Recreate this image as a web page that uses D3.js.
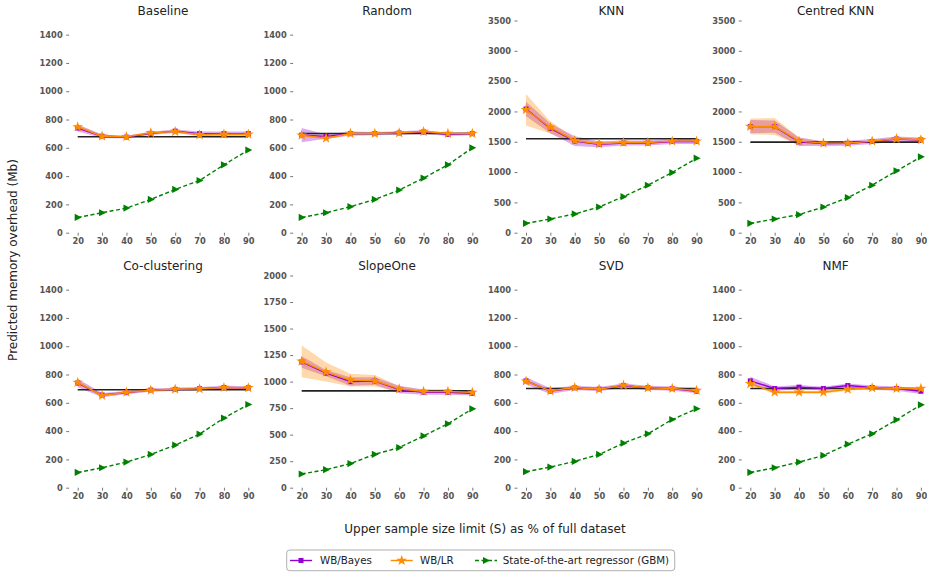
<!DOCTYPE html>
<html>
<head>
<meta charset="utf-8">
<script src="https://cdn.jsdelivr.net/npm/d3@7"></script>
<style>
  html, body { margin: 0; padding: 0; background: #fff; }
  svg { display: block; font-family: "DejaVu Sans", sans-serif; }
</style>
</head>
<body>
<svg id="chart" width="927" height="574"></svg>
<script>
// ---------- data ----------
const sampleSizes = [20, 30, 40, 50, 60, 70, 80, 90];
const panelTitles = ["Baseline", "Random", "KNN", "Centred KNN", "Co-clustering", "SlopeOne", "SVD", "NMF"];
const yMax = [1500, 1500, 3500, 3500, 1500, 2000, 1500, 1500];
const yTickStep = [200, 200, 500, 500, 200, 250, 200, 200];
const yTickMax = [1400, 1400, 3500, 3500, 1400, 2000, 1400, 1400];

const bayesMean = [
  [740, 682, 676, 702, 718, 700, 700, 700],
  [690, 680, 700, 700, 705, 712, 695, 700],
  [2040, 1720, 1510, 1460, 1480, 1480, 1505, 1505],
  [1750, 1750, 1500, 1470, 1475, 1505, 1545, 1530],
  [740, 655, 672, 690, 695, 700, 708, 706],
  [1185, 1080, 1000, 1005, 925, 900, 900, 890],
  [755, 683, 706, 697, 722, 706, 700, 682],
  [755, 701, 711, 701, 722, 708, 701, 682]
];
const bayesSpread = [
  [25, 12, 10, 12, 12, 15, 15, 15],
  [50, 15, 15, 12, 12, 12, 12, 12],
  [120, 80, 80, 50, 40, 40, 40, 40],
  [110, 100, 70, 40, 40, 40, 40, 40],
  [30, 15, 12, 12, 12, 12, 12, 12],
  [55, 30, 40, 35, 35, 25, 25, 20],
  [25, 20, 15, 15, 15, 15, 15, 15],
  [30, 15, 15, 12, 15, 15, 15, 20]
];
const lrMean = [
  [748, 682, 678, 706, 715, 692, 696, 696],
  [689, 668, 701, 701, 706, 715, 701, 701],
  [2028, 1736, 1521, 1466, 1488, 1488, 1510, 1510],
  [1753, 1753, 1510, 1477, 1477, 1510, 1549, 1532],
  [744, 652, 675, 689, 696, 699, 708, 706],
  [1191, 1090, 1014, 1008, 932, 907, 907, 898],
  [753, 685, 708, 696, 725, 706, 701, 687],
  [734, 675, 675, 675, 696, 706, 701, 701]
];
const lrSpread = [
  [15, 8, 8, 10, 10, 8, 8, 8],
  [10, 8, 8, 8, 8, 8, 8, 8],
  [260, 100, 40, 20, 20, 20, 20, 20],
  [130, 140, 60, 20, 20, 20, 20, 20],
  [15, 8, 8, 8, 8, 8, 8, 8],
  [150, 90, 60, 55, 25, 15, 15, 15],
  [12, 8, 8, 8, 8, 8, 8, 8],
  [12, 10, 10, 10, 10, 8, 8, 8]
];
const gbmMean = [
  [108, 141, 174, 235, 306, 369, 480, 584],
  [108, 141, 184, 235, 301, 386, 480, 600],
  [154, 226, 309, 424, 595, 783, 992, 1229],
  [154, 226, 298, 424, 579, 783, 1020, 1251],
  [108, 141, 181, 235, 301, 379, 492, 588],
  [129, 170, 227, 315, 378, 488, 602, 743],
  [113, 146, 186, 235, 315, 381, 482, 558],
  [108, 141, 181, 228, 308, 381, 480, 586]
];
const fullDataLevel = [678, 701, 1549, 1494, 692, 913, 701, 701];

const legendLabels = ["WB/Bayes", "WB/LR", "State-of-the-art regressor (GBM)"];

// ---------- style ----------
const cBayes = "#9400d3", cLR = "#ff8c00", cGBM = "#008000", cFlat = "#222222";
const tickColor = "#555";

// ---------- layout ----------
const svg = d3.select("#chart");
const colX20 = [77.7, 301.7, 526, 750.3];
const xSpan = 170.6;
const rowY = [[232.7, 20.5], [487.7, 275.5]];

panelTitles.forEach((title, p) => {
  const col = p % 4, row = Math.floor(p / 4);
  const x = d3.scaleLinear().domain([20, 90]).range([colX20[col], colX20[col] + xSpan]);
  const y = d3.scaleLinear().domain([0, yMax[p]]).range(rowY[row]);
  const g = svg.append("g");
  const left = x(16.5), right = x(93.5), bottom = rowY[row][0];

  // title
  g.append("text").attr("x", (left + right) / 2).attr("y", rowY[row][1] - 5.5)
    .attr("text-anchor", "middle").attr("font-size", 12).attr("fill", "#222").text(title);

  // y axis
  const yTicks = d3.range(0, yTickMax[p] + 1, yTickStep[p]);
  const ya = g.append("g").attr("transform", `translate(${left},0)`)
    .call(d3.axisLeft(y).tickValues(yTicks).tickSize(3).tickPadding(3.5).tickFormat(d3.format("d")));
  ya.select(".domain").remove();
  ya.selectAll("line").attr("stroke", tickColor).attr("stroke-width", 0.8);
  ya.selectAll("text").attr("font-size", 8.3).attr("font-weight", "bold").attr("fill", tickColor)
    .attr("font-family", "DejaVu Sans, sans-serif");

  // x axis
  const xa = g.append("g").attr("transform", `translate(0,${bottom})`)
    .call(d3.axisBottom(x).tickValues(sampleSizes).tickSize(3).tickPadding(2).tickFormat(d3.format("d")));
  xa.select(".domain").remove();
  xa.selectAll("line").attr("stroke", tickColor).attr("stroke-width", 0.8);
  xa.selectAll("text").attr("font-size", 8.3).attr("font-weight", "bold").attr("fill", tickColor)
    .attr("font-family", "DejaVu Sans, sans-serif");

  const idx = d3.range(sampleSizes.length);
  const area = (mean, spread) => d3.area()
    .x(i => x(sampleSizes[i]))
    .y0(i => y(mean[p][i] - spread[p][i]))
    .y1(i => y(mean[p][i] + spread[p][i]));
  const line = (vals) => d3.line().x(i => x(sampleSizes[i])).y(i => y(vals[p][i]));

  // bands
  g.append("path").datum(idx).attr("d", area(bayesMean, bayesSpread)).attr("fill", cBayes).attr("fill-opacity", 0.33);
  g.append("path").datum(idx).attr("d", area(lrMean, lrSpread)).attr("fill", cLR).attr("fill-opacity", 0.33);

  // full-data level line
  g.append("line").attr("x1", x(20)).attr("x2", x(90))
    .attr("y1", y(fullDataLevel[p])).attr("y2", y(fullDataLevel[p]))
    .attr("stroke", cFlat).attr("stroke-width", 1.6);

  // bayes
  g.append("path").datum(idx).attr("d", line(bayesMean)).attr("fill", "none").attr("stroke", cBayes).attr("stroke-width", 1.4);
  g.selectAll(null).data(idx).enter().append("rect")
    .attr("x", i => x(sampleSizes[i]) - 2.5).attr("y", i => y(bayesMean[p][i]) - 2.5)
    .attr("width", 5).attr("height", 5).attr("fill", cBayes);

  // LR
  g.append("path").datum(idx).attr("d", line(lrMean)).attr("fill", "none").attr("stroke", cLR).attr("stroke-width", 1.4);
  g.selectAll(null).data(idx).enter().append("path")
    .attr("d", d3.symbol().type(d3.symbolStar).size(36))
    .attr("transform", i => `translate(${x(sampleSizes[i])},${y(lrMean[p][i])})`)
    .attr("fill", cLR);

  // GBM
  g.append("path").datum(idx).attr("d", line(gbmMean)).attr("fill", "none").attr("stroke", cGBM)
    .attr("stroke-width", 1.4).attr("stroke-dasharray", "4,2.5");
  g.selectAll(null).data(idx).enter().append("path")
    .attr("d", "M-3,-3.6L4,0L-3,3.6Z")
    .attr("transform", i => `translate(${x(sampleSizes[i])},${y(gbmMean[p][i])})`)
    .attr("fill", cGBM);
});

// axis labels
svg.append("text").attr("transform", "translate(17,260) rotate(-90)")
  .attr("text-anchor", "middle").attr("font-size", 12).attr("fill", "#222")
  .text("Predicted memory overhead (Mb)");
svg.append("text").attr("x", 485).attr("y", 533)
  .attr("text-anchor", "middle").attr("font-size", 12).attr("fill", "#222")
  .text("Upper sample size limit (S) as % of full dataset");

// legend
const lg = svg.append("g");
lg.append("rect").attr("x", 286.7).attr("y", 550).attr("width", 388).attr("height", 20.7)
  .attr("rx", 3).attr("fill", "#fff").attr("stroke", "#999").attr("stroke-width", 0.8);
const legX = [290, 390.7, 475];
const legTextX = [320, 420, 502.7];
const legY = 560.5;
// bayes
lg.append("line").attr("x1", legX[0]).attr("x2", legX[0] + 22).attr("y1", legY).attr("y2", legY)
  .attr("stroke", cBayes).attr("stroke-width", 1.4);
lg.append("rect").attr("x", legX[0] + 11 - 2.5).attr("y", legY - 2.5).attr("width", 5).attr("height", 5).attr("fill", cBayes);
// lr
lg.append("line").attr("x1", legX[1]).attr("x2", legX[1] + 22).attr("y1", legY).attr("y2", legY)
  .attr("stroke", cLR).attr("stroke-width", 1.4);
lg.append("path").attr("d", d3.symbol().type(d3.symbolStar).size(36))
  .attr("transform", `translate(${legX[1] + 11},${legY})`).attr("fill", cLR);
// gbm
lg.append("line").attr("x1", legX[2]).attr("x2", legX[2] + 22).attr("y1", legY).attr("y2", legY)
  .attr("stroke", cGBM).attr("stroke-width", 1.4).attr("stroke-dasharray", "4,2.5");
lg.append("path").attr("d", "M-3,-3.6L4,0L-3,3.6Z")
  .attr("transform", `translate(${legX[2] + 11},${legY})`).attr("fill", cGBM);
legendLabels.forEach((t, i) => {
  lg.append("text").attr("x", legTextX[i]).attr("y", legY).attr("dy", "0.35em")
    .attr("font-size", 10.3).attr("fill", "#222").text(t);
});
</script>
</body>
</html>
